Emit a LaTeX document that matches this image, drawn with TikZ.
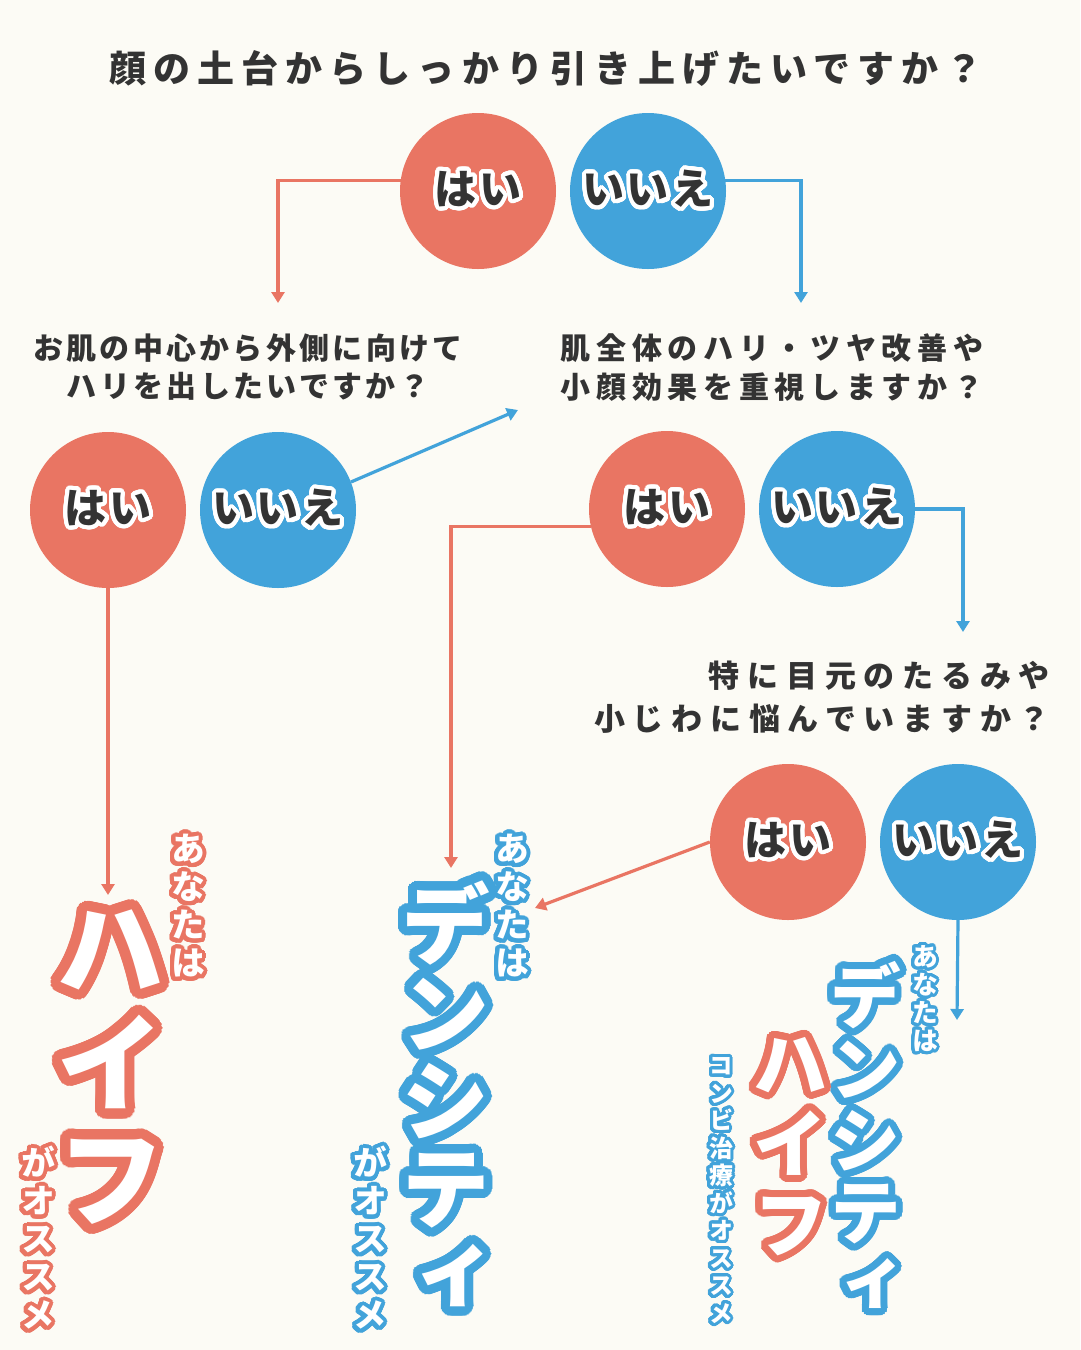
\documentclass[tikz,border=0pt]{standalone}
\usepackage{fontspec}
\usepackage{contour}
\usetikzlibrary{arrows.meta}
\setmainfont{Noto Sans CJK JP}[BoldFont={Noto Sans CJK JP Black}]
\newfontfamily\vertfont{Noto Sans CJK JP}[BoldFont={Noto Sans CJK JP Black},RawFeature=+vert]
\definecolor{paper}{HTML}{FCFBF5}
\definecolor{yescol}{HTML}{E97563}
\definecolor{nocol}{HTML}{42A3DA}
\definecolor{ink}{HTML}{333333}
\contournumber{48}
\newcommand\rc[1]{\contour{yescol}{#1}}
\newcommand\bc[1]{\contour{nocol}{#1}}
\newcommand\wc[1]{\contour{white}{#1}}
\tikzset{
    every node/.style={align=center,inner sep=0pt,},
    answer/.style={circle,minimum size=156pt,text=ink,
        font=\bfseries\fontsize{42}{42}\selectfont\addfontfeature{LetterSpace=6},
        execute at begin node={\contourlength{4pt}},},
    yes/.style={answer,fill=yescol,},
    no/.style={answer,fill=nocol,},
    ask/.style n args={3}{text=ink,font=\bfseries\fontsize{#1}{#2}\selectfont\addfontfeature{LetterSpace=#3},},
    vtext/.style n args={3}{text=white,font=\vertfont\bfseries\fontsize{#1}{#2}\selectfont,
        execute at begin node={\contourlength{#3pt}},},
    yesline/.style={draw=yescol,line width=3.2pt,-{Triangle[width=13pt,length=11pt]},},
    noline/.style={draw=nocol,line width=3.2pt,-{Triangle[width=13pt,length=11pt]},},
}
\begin{document}
\begin{tikzpicture}[x=1pt,y=-1pt]
    \useasboundingbox (0,0) rectangle (1080,1350);
    \fill[paper] (0,0) rectangle (1080,1350);

    \node[ask={37}{40}{19}] (title) at (546,68) {顔の土台からしっかり引き上げたいですか？};

    \node[yes] (yes1) at (478,191) {\wc{はい}};
    \node[no] (no1) at (648,191) {\wc{いいえ}};

    \node[ask={30}{38}{11}] (q-lift) at (248,367) {お肌の中心から外側に向けて\\ハリを出したいですか？};
    \node[ask={30}{39}{19}] (q-tone) at (772,368) {肌全体のハリ・ツヤ改善や\\小顔効果を重視しますか？};

    \node[yes] (yes2) at (108,510) {\wc{はい}};
    \node[no] (no2) at (278,510) {\wc{いいえ}};
    \node[yes] (yes3) at (667,509) {\wc{はい}};
    \node[no] (no3) at (837,509) {\wc{いいえ}};

    \node[ask={31}{43}{25},anchor=east,align=right] (q-eye) at (1050,697) {特に目元のたるみや\\小じわに悩んでいますか？};

    \node[yes] (yes4) at (788,842) {\wc{はい}};
    \node[no] (no4) at (958,842) {\wc{いいえ}};

    % results
    \node[vtext={34}{38}{4}] (hifu-you) at (188,908) {\rc{あ}\\\rc{な}\\\rc{た}\\\rc{は}};
    \node[vtext={110}{115}{10}] (hifu) at (110,1072) {\rc{ハ}\\\rc{イ}\\\rc{フ}};
    \node[vtext={34}{38}{4}] (hifu-rec) at (38,1240) {\rc{が}\\\rc{オ}\\\rc{ス}\\\rc{ス}\\\rc{メ}};

    \node[vtext={34}{38}{4}] (dens-you) at (512,908) {\bc{あ}\\\bc{な}\\\bc{た}\\\bc{は}};
    \node[vtext={90}{88}{9}] (dens) at (445,1100) {\bc{デ}\\\bc{ン}\\\bc{シ}\\\bc{テ}\\\bc{ィ}};
    \node[vtext={34}{38}{4}] (dens-rec) at (370,1240) {\bc{が}\\\bc{オ}\\\bc{ス}\\\bc{ス}\\\bc{メ}};

    \node[vtext={26}{28}{3}] (combo-you) at (925,1000) {\bc{あ}\\\bc{な}\\\bc{た}\\\bc{は}};
    \node[vtext={72}{72}{7}] (combo-dens) at (865,1140) {\bc{デ}\\\bc{ン}\\\bc{シ}\\\bc{テ}\\\bc{ィ}};
    \node[vtext={76}{80}{7}] (combo-hifu) at (790,1150) {\rc{ハ}\\\rc{イ}\\\rc{フ}};
    \node[vtext={24}{27.5}{3}] (combo-rec) at (721,1192) {\bc{コ}\\\bc{ン}\\\bc{ビ}\\\bc{治}\\\bc{療}\\\bc{が}\\\bc{オ}\\\bc{ス}\\\bc{ス}\\\bc{メ}};

    % arrow ends
    \coordinate (to-lift) at (278,303);
    \coordinate (to-tone) at (801,303);
    \coordinate (to-tone2) at (518,410);
    \coordinate (to-hifu) at (108,895);
    \coordinate (to-dens) at (451,868);
    \coordinate (to-eye) at (963,632);
    \coordinate (to-dens2) at (535,908);
    \coordinate (to-combo) at (957,1020);

    \draw[yesline] (yes1.172) -| (to-lift);
    \draw[noline] (no1.8) -| (to-tone);
    \draw[noline] (no2.21) -- (to-tone2);
    \draw[yesline] (yes2.south) -- (to-hifu);
    \draw[yesline] (yes3.193) -| (to-dens);
    \draw[noline] (no3.east) -| (to-eye);
    \draw[yesline] (yes4.west) -- (to-dens2);
    \draw[noline] (no4.south) -- (to-combo);
\end{tikzpicture}
\end{document}
